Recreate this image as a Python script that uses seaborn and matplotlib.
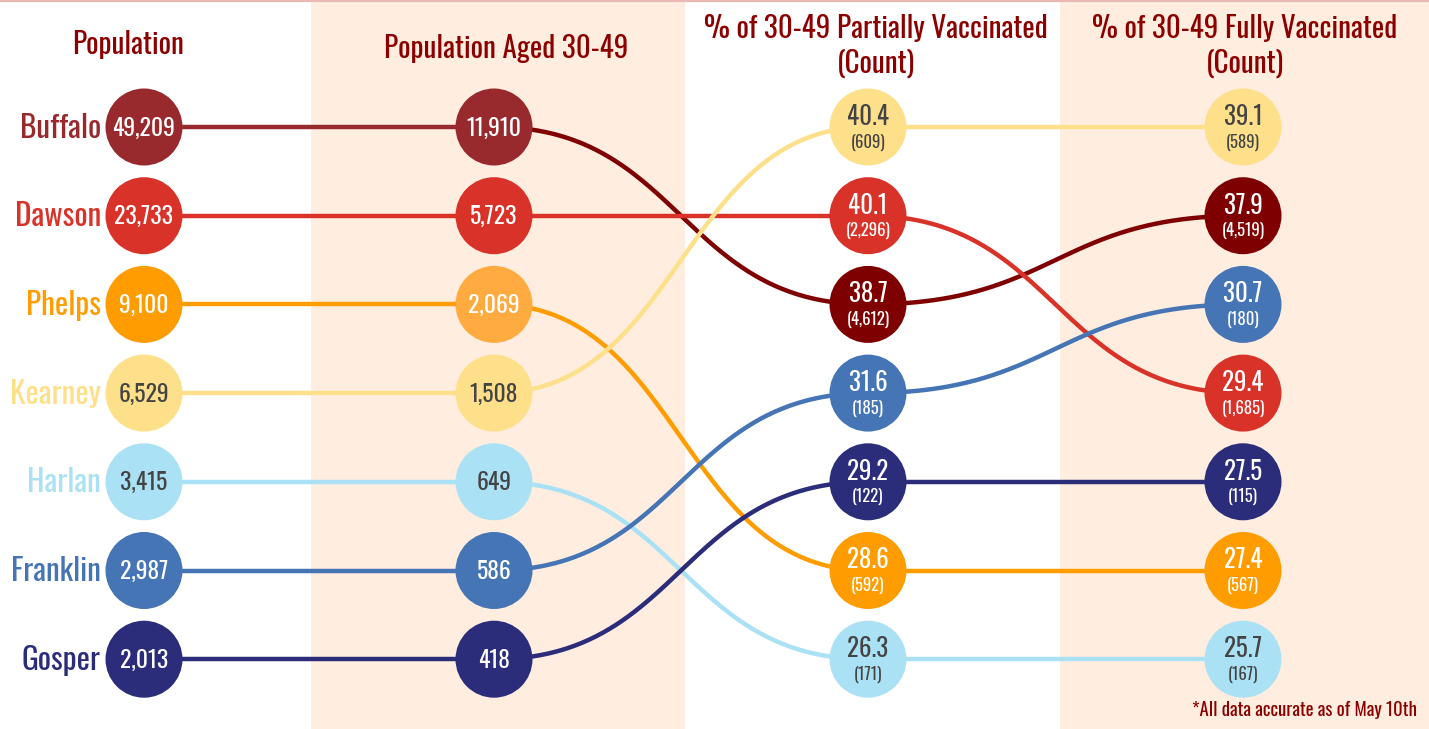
import numpy as np
import pandas as pd
import matplotlib
matplotlib.use("Agg")
import matplotlib.pyplot as plt
from matplotlib import font_manager
import seaborn as sns

# ---------------- data ----------------
counties = ["Buffalo", "Dawson", "Phelps", "Kearney", "Harlan", "Franklin", "Gosper"]
population = [49209, 23733, 9100, 6529, 3415, 2987, 2013]
pop_30_49 = [11910, 5723, 2069, 1508, 649, 586, 418]
partial_pct = [38.7, 40.1, 28.6, 40.4, 26.3, 31.6, 29.2]
partial_count = [4612, 2296, 592, 609, 171, 185, 122]
full_pct = [37.9, 29.4, 27.4, 39.1, 25.7, 30.7, 27.5]
full_count = [4519, 1685, 567, 589, 167, 180, 115]
headers = ["Population", "Population Aged 30-49",
           "% of 30-49 Partially Vaccinated\n(Count)", "% of 30-49 Fully Vaccinated\n(Count)"]
footnote = "*All data accurate as of May 10th"

# ---------------- style ----------------
colors = {"Buffalo": "#982a2e", "Dawson": "#d93228", "Phelps": "#ff9c00", "Kearney": "#fee08b",
          "Harlan": "#abe1f5", "Franklin": "#4575b4", "Gosper": "#2b2c7a"}
colors_late = dict(colors, Buffalo="#7f0000")
colors_col2 = dict(colors, Phelps="#ffab40")
dark_text = {"Kearney", "Harlan"}
head_color = "#8b0000"

sns.set_theme(style="white")
avail = {f.name for f in font_manager.fontManager.ttflist}
fam = "DejaVu Sans"
for cand in ["Oswald", "Roboto Condensed", "Liberation Sans Narrow", "Open Sans Condensed"]:
    if cand in avail:
        fam = cand
        break
plt.rcParams["font.family"] = [fam, "DejaVu Sans"]
plt.rcParams["font.stretch"] = "condensed"

W, H = 1429, 729
fig = plt.figure(figsize=(W / 100, H / 100), dpi=100)
ax = fig.add_axes([0, 0, 1, 1])
ax.set_xlim(0, W)
ax.set_ylim(H, 0)
ax.axis("off")
fig.patch.set_facecolor("white")

col_x = [144, 494, 868, 1243]
row_y0, row_dy = 127, 88.7
stripe = "#ffeedf"
ax.axvspan(311, 685, color=stripe, zorder=0, lw=0)
ax.axvspan(1060, W, color=stripe, zorder=0, lw=0)
ax.axhline(0.8, color="#eab8b2", lw=1.6, zorder=1)

# ranks per column
cols_vals = [population, pop_30_49, partial_pct, full_pct]
ranks = []
for vals in cols_vals:
    order = np.argsort(-np.array(vals), kind="stable")
    r = np.empty(len(vals), int)
    r[order] = np.arange(len(vals))
    ranks.append(r)

def ypos(rank):
    return round(row_y0 + rank * row_dy, 2)

# connecting lines (cubic bezier)
t = np.linspace(0, 1, 160)
for i, c in enumerate(counties):
    for k in range(3):
        x1, x2 = col_x[k], col_x[k + 1]
        y1, y2 = ypos(ranks[k][i]), ypos(ranks[k + 1][i])
        if y1 == y2:
            bx = np.array([x1, x2], float)
            by = np.array([y1, y2], float)
        else:
            dx = (x2 - x1) * 0.5
            px = [x1, x1 + dx, x2 - dx, x2]
            py = [y1, y1, y2, y2]
            b0, b1, b2, b3 = (1 - t) ** 3, 3 * (1 - t) ** 2 * t, 3 * (1 - t) * t ** 2, t ** 3
            bx = b0 * px[0] + b1 * px[1] + b2 * px[2] + b3 * px[3]
            by = b0 * py[0] + b1 * py[1] + b2 * py[2] + b3 * py[3]
        col = colors if k == 0 else colors_late
        sns.lineplot(x=bx, y=by, sort=False, ax=ax, color=col[c], lw=3.2, zorder=2,
                     estimator=None)

# circles
diam_pt = 77 * 72 / 100
for k in range(4):
    pal = colors if k == 0 else (colors_col2 if k == 1 else colors_late)
    df = pd.DataFrame({"x": [col_x[k]] * len(counties),
                       "y": [ypos(r) for r in ranks[k]],
                       "county": counties})
    sns.scatterplot(data=df, x="x", y="y", hue="county", palette=pal, s=diam_pt ** 2,
                    linewidth=0, ax=ax, legend=False, zorder=3)

# texts
for i, c in enumerate(counties):
    tc = "#444444" if c in dark_text else "white"
    y = ypos(ranks[0][i])
    ax.text(101, y + 1, c, ha="right", va="center", fontsize=22.5, color=colors[c], zorder=5)
    ax.text(col_x[0], y + 1, f"{population[i]:,}", ha="center", va="center", fontsize=17, color=tc, zorder=5)
    y = ypos(ranks[1][i])
    ax.text(col_x[1], y + 1, f"{pop_30_49[i]:,}", ha="center", va="center", fontsize=17, color=tc, zorder=5)
    for k, pv, cv in [(2, partial_pct, partial_count), (3, full_pct, full_count)]:
        y = ypos(ranks[k][i])
        ax.text(col_x[k], y - 10, f"{pv[i]:.1f}", ha="center", va="center", fontsize=18, color=tc, zorder=5)
        ax.text(col_x[k], y + 15, f"({cv[i]:,})", ha="center", va="center", fontsize=12, color=tc, zorder=5)

head_x = [128, 506, 876, 1245]
head_y = [44, 48, 46, 46]
for hx, hy, h in zip(head_x, head_y, headers):
    ax.text(hx, hy, h, ha="center", va="center", fontsize=21, color=head_color,
            linespacing=1.2, zorder=5)

ax.text(1417, 710, footnote, ha="right", va="center", fontsize=13.5, color=head_color, zorder=5)

fig.savefig("out.png", dpi=100, facecolor="white")
